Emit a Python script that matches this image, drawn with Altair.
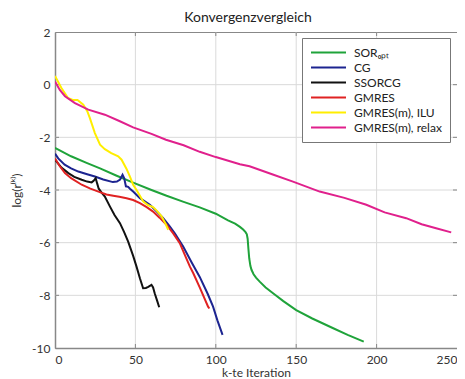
import altair as alt
import pandas as pd

FONT = "Lato"

series_names = ["SORₒₚₜ", "CG", "SSORCG", "GMRES", "GMRES(m), ILU", "GMRES(m), relax"]
series_colors = ["#1fa33a", "#1c2490", "#111111", "#e02222", "#ffee00", "#e0208c"]

sor_x = [0, 10, 20, 28, 38, 48.6, 60, 69.4, 80, 90, 100, 107.6, 112, 115, 117, 118.5, 119.3,
         119.8, 120.3, 120.8, 121.5, 122.2, 123.5, 125, 127.3, 131, 135.6, 142, 150, 160,
         172.7, 182, 192]
sor_y = [-2.4, -2.72, -2.98, -3.18, -3.45, -3.72, -4.0, -4.22, -4.45, -4.66, -4.9, -5.15, -5.28,
         -5.4, -5.5, -5.6, -5.68, -5.85, -6.25, -6.6, -6.88, -7.03, -7.2, -7.33, -7.48, -7.7,
         -7.92, -8.22, -8.56, -8.88, -9.24, -9.5, -9.76]

cg_x = [0, 2, 6, 10, 14.5, 20, 24.8, 30, 36, 38.5, 40.5, 42, 43, 44.1, 45.5, 46.6, 48.6, 52.8,
        59, 63, 67.3, 71, 74.5, 79.7, 85, 90, 95, 98.3, 101, 104.2]
cg_y = [-2.62, -2.8, -3.04, -3.18, -3.3, -3.4, -3.49, -3.6, -3.7, -3.68, -3.6, -3.42, -3.55,
        -3.86, -3.88, -3.95, -4.06, -4.31, -4.56, -4.8, -5.07, -5.35, -5.64, -6.15, -6.75, -7.3,
        -7.95, -8.43, -8.95, -9.5]

ssorcg_x = [0, 4, 8.3, 12, 16.6, 20, 22.8, 24, 25.3, 26.2, 27.2, 29, 31, 34.2, 37, 40.4, 43,
            45.5, 48.6, 50.7, 52.8, 54.8, 56.5, 58, 60, 61, 62, 63.5, 64.8]
ssorcg_y = [-2.85, -3.15, -3.36, -3.5, -3.61, -3.68, -3.71, -3.65, -3.55, -3.75, -3.95, -4.1,
            -4.25, -4.63, -4.95, -5.26, -5.6, -5.96, -6.5, -6.91, -7.35, -7.73, -7.72, -7.68,
            -7.6, -7.7, -7.92, -8.2, -8.45]

gmres_x = [0, 3, 6.2, 10, 16.6, 22, 27, 32, 36.2, 40, 44.5, 48.6, 52.8, 57, 61, 65, 69.4, 73.5,
           77.6, 81, 83.9, 86, 90, 95.2, 96]
gmres_y = [-2.8, -3.1, -3.36, -3.55, -3.8, -3.95, -4.06, -4.17, -4.22, -4.26, -4.31, -4.38,
           -4.5, -4.65, -4.82, -5.05, -5.32, -5.65, -6.02, -6.5, -6.91, -7.16, -7.7, -8.43, -8.5]

ilu_x = [0, 2, 4, 8, 11, 14, 17.6, 20, 21.7, 24.8, 28, 31, 35, 39.3, 41.4, 44.5, 46.6, 48.6,
         50.7, 54.8, 58, 61, 63.5, 66.3, 68.5, 70.4]
ilu_y = [0.33, 0.1, -0.13, -0.5, -0.58, -0.58, -0.76, -1.0, -1.27, -1.84, -2.28, -2.45, -2.6,
         -2.72, -2.85, -3.2, -3.49, -3.8, -4.0, -4.43, -4.58, -4.65, -4.8, -5.0, -5.25, -5.51]

relax_x = [0, 3, 6.2, 12.4, 20.7, 31, 40, 48.6, 60, 69, 80, 90, 100, 115, 121, 135, 148, 164.6,
           180, 193.6, 205, 218.4, 228, 237, 246.4]
relax_y = [0.12, -0.2, -0.44, -0.7, -0.95, -1.14, -1.38, -1.62, -1.87, -2.09, -2.3, -2.55, -2.75,
           -3.02, -3.1, -3.4, -3.68, -4.06, -4.3, -4.56, -4.85, -5.07, -5.3, -5.45, -5.61]

x_ticks = [0, 50, 100, 150, 200, 250]
y_ticks = [-10, -8, -6, -4, -2, 0, 2]

xs = [sor_x, cg_x, ssorcg_x, gmres_x, ilu_x, relax_x]
ys = [sor_y, cg_y, ssorcg_y, gmres_y, ilu_y, relax_y]

rows = []
for name, sx, sy in zip(series_names, xs, ys):
    for a, b in zip(sx, sy):
        rows.append({"series": name, "x": a, "y": b})
df = pd.DataFrame(rows)

x_scale = alt.Scale(domain=[0, 250], nice=False, zero=False)
y_scale = alt.Scale(domain=[-10, 2], nice=False, zero=False)

x_axis = alt.Axis(values=x_ticks, title="k-te Iteration", labelPadding=6, titlePadding=2,
                  labelExpr="'' + datum.value")
y_axis = alt.Axis(values=y_ticks, title="log(r⁽ᵏ⁾)", labelPadding=5, titlePadding=8,
                  labelExpr="'' + datum.value")

grid_style = dict(color="#dadada", strokeWidth=1)

vgrid = alt.Chart(pd.DataFrame({"x": x_ticks[1:-1]})).mark_rule(**grid_style).encode(
    x=alt.X("x:Q", scale=x_scale, axis=x_axis), y=alt.value(0), y2=alt.value(316)
)
hgrid = alt.Chart(pd.DataFrame({"y": y_ticks[1:-1]})).mark_rule(**grid_style).encode(
    y=alt.Y("y:Q", scale=y_scale, axis=y_axis), x=alt.value(0), x2=alt.value(402)
)

tick_style = dict(color="#888", strokeWidth=1)
xtick_bottom = alt.Chart(pd.DataFrame({"x": x_ticks[1:-1]})).mark_rule(**tick_style).encode(
    x=alt.X("x:Q", scale=x_scale, axis=x_axis), y=alt.value(316), y2=alt.value(312)
)
xtick_top = alt.Chart(pd.DataFrame({"x": x_ticks[1:-1]})).mark_rule(**tick_style).encode(
    x=alt.X("x:Q", scale=x_scale, axis=x_axis), y=alt.value(0), y2=alt.value(4)
)
ytick_left = alt.Chart(pd.DataFrame({"y": y_ticks[1:-1]})).mark_rule(**tick_style).encode(
    y=alt.Y("y:Q", scale=y_scale, axis=y_axis), x=alt.value(0), x2=alt.value(4)
)
ytick_right = alt.Chart(pd.DataFrame({"y": y_ticks[1:-1]})).mark_rule(**tick_style).encode(
    y=alt.Y("y:Q", scale=y_scale, axis=y_axis), x=alt.value(402), x2=alt.value(398)
)

lines = alt.Chart(df).mark_line(strokeWidth=2, clip=True).encode(
    x=alt.X("x:Q", scale=x_scale, axis=x_axis),
    y=alt.Y("y:Q", scale=y_scale, axis=y_axis),
    color=alt.Color("series:N",
                    scale=alt.Scale(domain=series_names, range=series_colors),
                    sort=series_names,
                    legend=alt.Legend(title=None, orient="none", legendX=247, legendY=6,
                                      symbolType="stroke", symbolSize=1225,
                                      symbolStrokeWidth=2, clipHeight=13, rowPadding=2,
                                      labelOffset=7, padding=8, strokeColor="#777",
                                      fillColor="white", labelFontSize=12, labelFont=FONT,
                                      labelColor="#222", labelLimit=300)),
)

chart = alt.layer(vgrid, hgrid, xtick_bottom, xtick_top, ytick_left, ytick_right, lines).properties(
    width=402,
    height=316,
    autosize=alt.AutoSizeParams(type="none"),
    padding={"left": 47, "top": 24, "right": 0, "bottom": 31},
    title=alt.TitleParams("Konvergenzvergleich", fontSize=14, fontWeight="normal", font=FONT,
                          color="#222", offset=1, dx=-8),
).configure_view(
    stroke="#888", strokeWidth=1
).configure_axis(
    grid=False, domainColor="#888", domainWidth=1.5, ticks=False,
    labelFont=FONT, labelFontSize=12, labelColor="#333",
    titleFont=FONT, titleFontSize=12, titleFontWeight="normal", titleColor="#333",
)

chart.save("out.html", embed_options={"renderer": "svg", "actions": False})
